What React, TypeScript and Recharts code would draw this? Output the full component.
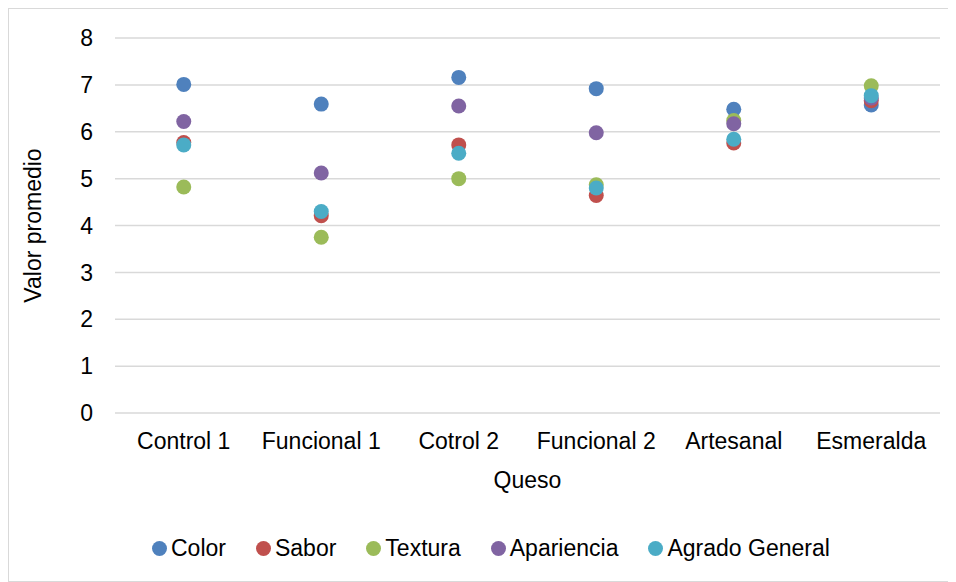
import {
  ScatterChart,
  Scatter,
  XAxis,
  YAxis,
  CartesianGrid,
  Legend,
} from "recharts";

const quesos = ["Control 1", "Funcional 1", "Cotrol 2", "Funcional 2", "Artesanal", "Esmeralda"];
const yTicks = [0, 1, 2, 3, 4, 5, 6, 7, 8];

const color = [7.01, 6.59, 7.16, 6.92, 6.48, 6.57];
const sabor = [5.77, 4.21, 5.72, 4.64, 5.76, 6.66];
const textura = [4.82, 3.75, 5.0, 4.87, 6.24, 6.98];
const apariencia = [6.22, 5.12, 6.55, 5.98, 6.17, 6.72];
const agrado = [5.72, 4.3, 5.54, 4.8, 5.84, 6.77];

const SERIES = [
  { name: "Color", values: color, fill: "#4f81bd" },
  { name: "Sabor", values: sabor, fill: "#c0504d" },
  { name: "Textura", values: textura, fill: "#9bbb59" },
  { name: "Apariencia", values: apariencia, fill: "#8064a2" },
  { name: "Agrado General", values: agrado, fill: "#4bacc6" },
];

const FONT = "Arial, 'Liberation Sans', sans-serif";
const tick = { fontSize: 23, fill: "#000", fontFamily: FONT };

const dot = (fill: string) => (p: any) =>
  <circle cx={p.cx} cy={p.cy} r={7.5} fill={fill} />;

const renderLegend = () => (
  <div style={{ display: "flex", alignItems: "center", fontFamily: FONT, fontSize: 23, color: "#000", lineHeight: "26px" }}>
    {SERIES.map((s) => (
      <div key={s.name} style={{ display: "flex", alignItems: "center", marginRight: 30 }}>
        <span style={{ width: 15, height: 15, borderRadius: "50%", background: s.fill, marginRight: 4, display: "inline-block" }} />
        <span>{s.name}</span>
      </div>
    ))}
  </div>
);

export default function App() {
  return (
    <div style={{ width: 946, height: 572, border: "1px solid #d9d9d9", background: "#fff" }}>
      <ScatterChart width={946} height={572} margin={{ top: 29, right: 15, bottom: 34, left: 0 }}>
        <CartesianGrid vertical={false} stroke="#d9d9d9" strokeWidth={1.5} />
        <XAxis
          type="number"
          dataKey="x"
          domain={[-0.5, 5.5]}
          ticks={[0, 1, 2, 3, 4, 5]}
          tickFormatter={(i: number) => quesos[i]}
          interval={0}
          axisLine={false}
          tickLine={false}
          tickSize={0}
          tickMargin={20}
          height={134}
          tick={tick}
          label={{ value: "Queso", position: "center", style: { fontSize: 23, fill: "#000", fontFamily: FONT } }}
        />
        <YAxis
          type="number"
          dataKey="y"
          domain={[0, 8]}
          ticks={yTicks}
          interval={0}
          width={106}
          axisLine={false}
          tickLine={false}
          tickSize={0}
          tickMargin={22}
          tick={tick}
          label={{
            value: "Valor promedio",
            angle: -90,
            position: "insideLeft",
            offset: 24,
            style: { fontSize: 23, fill: "#000", fontFamily: FONT, textAnchor: "middle" },
          }}
        />
        {SERIES.map((s) => (
          <Scatter
            key={s.name}
            name={s.name}
            data={s.values.map((v, i) => ({ x: i, y: v }))}
            fill={s.fill}
            shape={dot(s.fill)}
            isAnimationActive={false}
          />
        ))}
        <Legend
          layout="vertical"
          align="center"
          verticalAlign="middle"
          content={renderLegend}
          wrapperStyle={{ left: 143, top: 526, width: "auto" }}
        />
      </ScatterChart>
    </div>
  );
}
